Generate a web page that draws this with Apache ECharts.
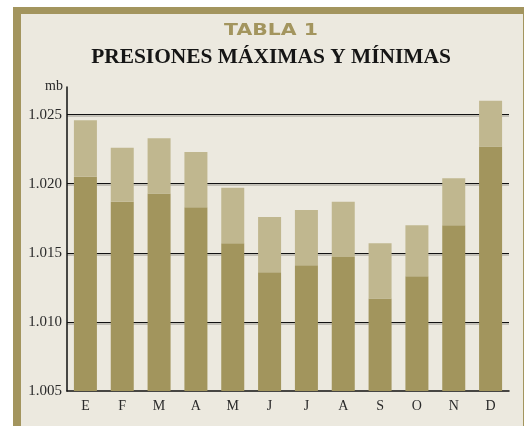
<!DOCTYPE html>
<html>
<head>
<meta charset="utf-8">
<script src="https://cdn.jsdelivr.net/npm/echarts@6/dist/echarts.min.js"></script>
<style>
  html, body { margin: 0; padding: 0; background: #ffffff; }
  #presiondiv { width: 524px; height: 426px; }
</style>
</head>
<body>
<div id="presiondiv"></div>
<script>
// meses
var months = ['E', 'F', 'M', 'A', 'M', 'J', 'J', 'A', 'S', 'O', 'N', 'D'];
// presiones en mb
var minPressure = [1.0205, 1.0187, 1.0193, 1.0183, 1.0157, 1.0136, 1.0141, 1.0147, 1.0117, 1.0133, 1.0170, 1.0227];
var maxPressure = [1.0246, 1.0226, 1.0233, 1.0223, 1.0197, 1.0176, 1.0181, 1.0187, 1.0157, 1.0170, 1.0204, 1.0260];
var yTicks = [1.005, 1.010, 1.015, 1.020, 1.025];

function presiones() {
  if (document.getElementById('presiondiv') == null) {
    return;
  }
  var myChart = echarts.init(document.getElementById('presiondiv'));
  // tramo claro = max - min, apilado sobre el min
  var range = [];
  for (var i = 0; i < months.length; i++) {
    range.push(+(maxPressure[i] - minPressure[i]).toFixed(4));
  }
  var option = {
    animation: false,
    graphic: [
      { type: 'rect', z: -10, shape: { x: 13, y: 7, width: 511, height: 419 }, style: { fill: '#a3955e' } },
      { type: 'rect', z: -9, shape: { x: 21, y: 14, width: 502, height: 412 }, style: { fill: '#ece9df' } },
      {
        type: 'text', x: 271, y: 31, scaleX: 1.36,
        style: { text: 'TABLA 1', x: 0, y: 0, textAlign: 'center', textVerticalAlign: 'middle',
                 font: 'bold 15px "DejaVu Sans"', fill: '#a3955e' }
      },
      {
        type: 'text', x: 271, y: 58, scaleX: 1.07,
        style: { text: 'PRESIONES MÁXIMAS Y MÍNIMAS', x: 0, y: 0, textAlign: 'center', textVerticalAlign: 'middle',
                 font: 'bold 20px "Liberation Serif"', fill: '#151515' }
      }
    ],
    grid: {
      left: 67,
      right: 15,
      top: 87,
      bottom: 35
    },
    xAxis: {
      type: 'category',
      data: months,
      axisLine: { lineStyle: { color: '#111', width: 1.5 } },
      axisTick: { show: false },
      axisLabel: { color: '#2a2a2a', fontFamily: 'Liberation Serif', fontSize: 14, margin: 8 }
    },
    yAxis: {
      type: 'value',
      min: 1.005,
      max: 1.027,
      interval: 0.005,
      name: 'mb',
      nameLocation: 'end',
      nameGap: -6,
      nameTextStyle: { color: '#2a2a2a', fontFamily: 'Liberation Serif', fontSize: 14, align: 'right', padding: [0, 4, 0, 0] },
      axisLine: { show: true, lineStyle: { color: '#111', width: 1.5 } },
      axisTick: { show: false },
      axisLabel: {
        color: '#2a2a2a', fontFamily: 'Liberation Serif', fontSize: 15, margin: 5,
        showMaxLabel: false,
        formatter: function (v) {
          return yTicks.indexOf(+v.toFixed(3)) >= 0 ? v.toFixed(3) : '';
        }
      },
      splitLine: {
        show: true,
        showMinLine: false,
        showMaxLine: false,
        lineStyle: { color: '#111', width: 1, shadowColor: '#9a9890', shadowOffsetY: 1.5, shadowBlur: 0 }
      }
    },
    series: [
      {
        name: 'Mínima',
        type: 'bar',
        stack: 'p',
        barWidth: 23,
        clip: true,
        itemStyle: { color: '#a2955d' },
        data: minPressure
      },
      {
        name: 'Máxima',
        type: 'bar',
        stack: 'p',
        barWidth: 23,
        clip: true,
        itemStyle: { color: '#c0b78f' },
        data: range
      }
    ]
  };
  myChart.setOption(option);
}
presiones();
</script>
</body>
</html>
